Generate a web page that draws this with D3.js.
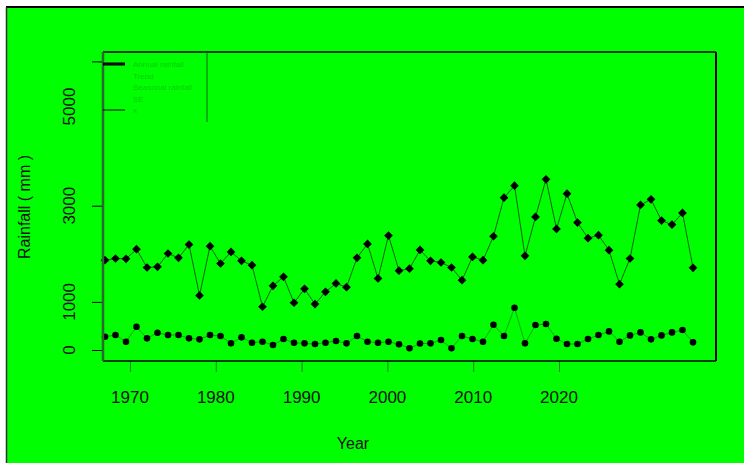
<!DOCTYPE html>
<html>
<head>
<meta charset="utf-8">
<script src="https://cdn.jsdelivr.net/npm/d3@7"></script>
<style>
  body { margin: 0; background: #fff; }
  text { font-family: "Liberation Sans", Arial, sans-serif; }
</style>
</head>
<body>
<div id="chart"></div>
<script>
// Data
var years = d3.range(1967, 2024);
var annual = [1867, 1902, 1895, 2095, 1715, 1729, 2006, 1916, 2192, 1134,
              2158, 1798, 2040, 1853, 1763, 899, 1335, 1521, 982, 1272,
              954, 1210, 1383, 1307, 1916, 2206, 1487, 2379, 1650, 1690,
              2080, 1853, 1819, 1715, 1452, 1936, 1867, 2365, 3167, 3416,
              1957, 2766, 3548, 2517, 3251, 2649, 2324, 2386, 2075, 1369,
              1902, 3015, 3133, 2690, 2607, 2849, 1708];
var seasonal = [276, 311, 173, 484, 242, 360, 311, 311, 242, 221,
                311, 290, 138, 263, 152, 173, 104, 228, 152, 138,
                124, 152, 187, 138, 290, 173, 152, 173, 120, 35,
                135, 138, 207, 35, 290, 228, 173, 525, 290, 878,
                138, 519, 539, 235, 124, 124, 228, 311, 387, 173,
                304, 366, 221, 304, 366, 415, 159];
var xTicks = [1970, 1980, 1990, 2000, 2010, 2020];
var yTicks = [0, 1000, 3000, 6000];
var yLabels = [0, 1000, 3000, 5000];
var legendLabels = ["Annual rainfall", "Trend", "Seasonal rainfall", "SE", "x"];

// Canvas
var w = 744, h = 463;
var svg = d3.select("#chart").append("svg").attr("width", w).attr("height", h);

svg.append("rect").attr("x", 6).attr("y", 7).attr("width", w - 6).attr("height", h - 7)
   .style("fill", "#00ff00");
svg.append("line").attr("x1", 6).attr("x2", w).attr("y1", 7).attr("y2", 7)
   .style("stroke", "#000").style("stroke-width", 2);
svg.append("line").attr("x1", 6.5).attr("x2", 6.5).attr("y1", 7).attr("y2", h)
   .style("stroke", "#333").style("stroke-width", 1.5);

// plot box
var L = 103, R = 716, T = 52, B = 361;

// scales
const xscale = d3.scaleLinear().domain([1967, 2023]).range([105, 693]);
const xaxisScale = d3.scaleLinear().domain([1970, 2020]).range([130, 559]);
const yscale = d3.scaleLinear().domain([0, 6000]).range([350, 61.4]);

// axes
var xaxis = d3.axisBottom(xaxisScale).tickValues(xTicks).tickSize(11).tickFormat("");
var gx = svg.append("g").attr("transform", "translate(0," + B + ")").call(xaxis);
gx.select(".domain").remove();
gx.selectAll("line").style("stroke", "#2a7a2a");

svg.selectAll(".xlab").data(xTicks).enter().append("text").attr("class", "xlab")
   .attr("x", d => xaxisScale(d)).attr("y", 403)
   .attr("text-anchor", "middle").style("font-size", "17px").style("fill", "#111")
   .text(d => d);

var yaxis = d3.axisLeft(yscale).tickValues(yTicks).tickSize(11).tickFormat("");
var gy = svg.append("g").attr("transform", "translate(" + L + ",0)").call(yaxis);
gy.select(".domain").remove();
gy.selectAll("line").style("stroke", "#000");

svg.selectAll(".ylab").data(yLabels).enter().append("text").attr("class", "ylab")
   .attr("transform", d => "translate(75," + (yscale(d) - (d == 5000 ? 3 : 0)) + ") rotate(-90)")
   .attr("text-anchor", "middle").style("font-size", "17px").style("fill", "#111")
   .text(d => d);

svg.append("text").attr("transform", "translate(30,207) rotate(-90)")
   .attr("text-anchor", "middle").style("font-size", "16px").style("fill", "#111")
   .text("Rainfall ( mm )");
svg.append("text").attr("x", 353).attr("y", 449)
   .attr("text-anchor", "middle").style("font-size", "16px").style("fill", "#111")
   .text("Year");

// lines
var line = d3.line().x((d, i) => xscale(years[i])).y(d => yscale(d));
var g = svg.append("g");
g.append("path").datum(annual).attr("d", line)
 .style("fill", "none").style("stroke", "#0d4d0d").style("stroke-width", 0.9);
g.append("path").datum(seasonal).attr("d", line)
 .style("fill", "none").style("stroke", "#0d4d0d").style("stroke-width", 0.7).style("opacity", 0.7);

g.selectAll(".pa").data(annual).enter().append("path").attr("class", "pa")
 .attr("d", d3.symbol().type(d3.symbolSquare).size(38))
 .attr("transform", (d, i) => "translate(" + xscale(years[i]) + "," + yscale(d) + ") rotate(45)")
 .style("fill", "#000");
g.selectAll(".ps").data(seasonal).enter().append("circle").attr("class", "ps")
 .attr("cx", (d, i) => xscale(years[i])).attr("cy", d => yscale(d)).attr("r", 3.3)
 .style("fill", "#000");

// box
svg.append("line").attr("x1", L).attr("x2", R).attr("y1", T).attr("y2", T).style("stroke", "#000").style("stroke-width", 1.5);
svg.append("line").attr("x1", R).attr("x2", R).attr("y1", T).attr("y2", B).style("stroke", "#000").style("stroke-width", 2);
svg.append("line").attr("x1", L).attr("x2", R).attr("y1", B).attr("y2", B).style("stroke", "#000").style("stroke-width", 1.5);
svg.append("line").attr("x1", L).attr("x2", L).attr("y1", T).attr("y2", B).style("stroke", "#2a6a2a").style("stroke-width", 2.5);

// legend
var lg = svg.append("g");
lg.append("line").attr("x1", 207).attr("x2", 207).attr("y1", T).attr("y2", 122)
  .style("stroke", "#1f5f1f").style("stroke-width", 1);
lg.append("line").attr("x1", L).attr("x2", 125).attr("y1", 64).attr("y2", 64)
  .style("stroke", "#000").style("stroke-width", 3);
lg.append("line").attr("x1", L).attr("x2", 125).attr("y1", 110).attr("y2", 110)
  .style("stroke", "#000").style("stroke-width", 1);
lg.selectAll("text").data(legendLabels).enter().append("text")
  .attr("x", 133).attr("y", (d, i) => 67 + i * 11.5)
  .style("font-size", "8px").style("fill", "#0f5f0f").style("opacity", 0.3)
  .text(d => d);
</script>
</body>
</html>
